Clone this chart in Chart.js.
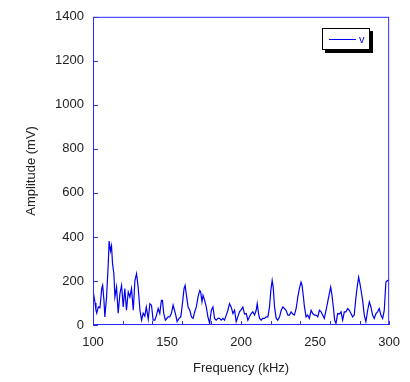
<!DOCTYPE html>
<html>
<head>
<meta charset="utf-8">
<script src="https://cdn.jsdelivr.net/npm/chart.js@4/dist/chart.umd.min.js"></script>
<style>
  html, body { margin: 0; padding: 0; background: #fff; }
  #wrap { width: 410px; height: 382px; }
</style>
</head>
<body>
<div id="wrap"><canvas id="spectrum"></canvas></div>
<script>
// spectrum (kHz, mV)
const freqs = [
  100, 101.4, 102, 102.5, 103.6, 104.7, 105.9, 106.5, 107.4, 108, 109.1, 110.3, 110.9, 111.8, 112.5, 113.2,
  114.1, 114.8, 115.9, 117, 118.2, 119.3, 120.4, 121.5, 122.6, 123.8, 124.9, 126, 127.2, 128.3, 129.4, 130.5,
  131.7, 132.8, 133.9, 135, 136, 137.3, 138.4, 139.5, 140.6, 141.8, 142.9, 144, 145.1, 146.2, 146.9, 147.8,
  148.9, 150.7, 151.8, 152.9, 154.1, 155, 155.9, 156.8, 158.1, 159.3, 160.4, 161.5, 162.2, 163.1, 164.2, 165.4,
  166.5, 167.6, 168.7, 169.8, 170.9, 172.1, 172.7, 173.6, 174.3, 175.4, 176.5, 177.6, 178.8, 179.9, 181, 182.1,
  183.2, 184.4, 185.5, 186.6, 187.7, 188.8, 190, 191.1, 192.2, 193.3, 194.5, 195.6, 196.7, 197.8, 198.9, 200.1,
  201.2, 202.3, 203.5, 204.6, 205.7, 206.8, 207.9, 209.1, 210.2, 210.9, 211.8, 212.5, 213.6, 214.7, 215.8, 217,
  218.1, 219.2, 220.1, 221, 221.7, 222.6, 223.7, 224.8, 226, 227.1, 228.2, 229.3, 230.4, 231.6, 232.7, 233.8,
  234.9, 236, 237.2, 238.3, 239.4, 240.5, 241.2, 242.1, 242.8, 243.9, 245, 246.1, 247.3, 248.4, 249.5, 250.6,
  251.8, 252.9, 254, 255.1, 256.2, 257.4, 258.5, 259.6, 260.5, 261.4, 262.3, 263.2, 264.1, 265.2, 266.4, 267.5,
  268.6, 269.7, 270.8, 272, 273.1, 274.2, 275.3, 276.4, 277.6, 278.7, 279.4, 280.3, 281.2, 282.1, 283.2, 284.3,
  285.5, 286.6, 287.7, 288.8, 289.9, 291.1, 292.2, 293.3, 294.4, 295.6, 296.7, 297.8, 298.9, 300
];
const amps = [
  157, 100, 67, 54, 82, 78, 166, 180, 112, 37, 120, 278, 381, 336, 359, 278,
  233, 127, 172, 54, 143, 180, 82, 166, 67, 150, 127, 166, 67, 202, 233, 172,
  67, 22, 54, 40, 82, 27, 97, 90, 22, 22, 45, 75, 52, 112, 112, 52,
  22, 37, 37, 52, 90, 67, 45, 15, 30, 37, 97, 166, 180, 135, 82, 67,
  37, 30, 60, 82, 127, 157, 150, 105, 135, 112, 82, 37, 7, 67, 82, 30,
  22, 30, 30, 22, 30, 22, 45, 67, 97, 82, 52, 67, 15, 37, 60, 70,
  82, 50, 52, 22, 37, 52, 60, 45, 67, 97, 52, 30, 22, 30, 30, 37,
  37, 82, 157, 202, 172, 82, 30, 22, 37, 67, 82, 75, 67, 45, 45, 60,
  50, 45, 75, 127, 166, 195, 180, 127, 82, 37, 45, 30, 67, 52, 45, 45,
  37, 67, 60, 45, 30, 67, 105, 143, 172, 135, 82, 22, 7, 52, 50, 60,
  22, 60, 60, 75, 67, 52, 37, 45, 127, 187, 217, 187, 150, 112, 45, 15,
  67, 105, 82, 45, 30, 52, 60, 75, 45, 30, 67, 195, 202, 200
];
const yTicks = [0, 200, 400, 600, 800, 1000, 1200, 1400];
const xTicks = [100, 150, 200, 250, 300];
const xMinorStep = 20;
const seriesName = "v";

const BLUE = "#0000ee";
const BOX = "#2a2aff";
const FONT = "'Liberation Sans', Arial, sans-serif";

// box, inward ticks and the shadowed legend
const framePlugin = {
  id: "frame",
  afterDatasetsDraw(chart) {
    const { ctx, chartArea: a, scales } = chart;
    ctx.save();
    ctx.strokeStyle = BOX;
    ctx.lineWidth = 1;
    ctx.strokeRect(a.left + 0.5, a.top + 0.5, a.right - a.left - 1, a.bottom - a.top - 1);

    ctx.beginPath();
    yTicks.forEach(v => {
      const y = Math.round(scales.y.getPixelForValue(v)) + 0.5;
      ctx.moveTo(a.left, y);
      ctx.lineTo(a.left + 5, y);
    });
    for (let f = xTicks[0]; f <= xTicks[xTicks.length - 1]; f += xMinorStep) {
      const x = Math.round(scales.x.getPixelForValue(f)) + 0.5;
      ctx.moveTo(x, a.bottom);
      ctx.lineTo(x, a.bottom - 4);
    }
    ctx.stroke();

    // legend
    const lx = 322, ly = 28, lw = 48, lh = 22;
    ctx.fillStyle = "#000";
    ctx.fillRect(lx + 3, ly + 3, lw, lh);
    ctx.fillStyle = "#fff";
    ctx.fillRect(lx, ly, lw, lh);
    ctx.strokeStyle = "#000";
    ctx.strokeRect(lx + 0.5, ly + 0.5, lw - 1, lh - 1);
    ctx.strokeStyle = BLUE;
    ctx.beginPath();
    ctx.moveTo(lx + 7, ly + 11.5);
    ctx.lineTo(lx + 34, ly + 11.5);
    ctx.stroke();
    ctx.fillStyle = BLUE;
    ctx.font = "11px " + FONT;
    ctx.textBaseline = "middle";
    ctx.fillText(seriesName, lx + 37, ly + 12);
    ctx.restore();
  }
};

new Chart(document.getElementById("spectrum"), {
  type: "line",
  data: {
    datasets: [{
      label: seriesName,
      data: freqs.map((f, i) => ({ x: f, y: amps[i] })),
      borderColor: BLUE,
      borderWidth: 1.2,
      pointRadius: 0,
      tension: 0,
      fill: false
    }]
  },
  options: {
    responsive: true,
    maintainAspectRatio: false,
    animation: false,
    layout: { padding: { top: 13, right: 20, left: 0, bottom: 0 } },
    plugins: { legend: { display: false }, tooltip: { enabled: false } },
    scales: {
      x: {
        type: "linear",
        min: 100,
        max: 300,
        afterFit: s => { s.height = 57; },
        afterBuildTicks: s => { s.ticks = xTicks.map(v => ({ value: v })); },
        grid: { display: false, drawTicks: false },
        border: { display: false },
        ticks: { color: "#222", padding: 10, maxRotation: 0, callback: v => String(v), font: { size: 13, family: FONT } },
        title: { display: true, text: "Frequency (kHz)", color: "#222", padding: { top: 0, bottom: 6 }, font: { size: 13, family: FONT } }
      },
      y: {
        min: 0,
        max: 1400,
        afterFit: s => { s.width = 93; },
        afterBuildTicks: s => { s.ticks = yTicks.map(v => ({ value: v })); },
        grid: { display: false, drawTicks: false },
        border: { display: false },
        ticks: { color: "#222", padding: 9, callback: v => String(v), font: { size: 13, family: FONT } },
        title: { display: true, text: "Amplitude (mV)", color: "#222", padding: { top: 24, bottom: 0 }, font: { size: 13, family: FONT } }
      }
    }
  },
  plugins: [framePlugin]
});
</script>
</body>
</html>
